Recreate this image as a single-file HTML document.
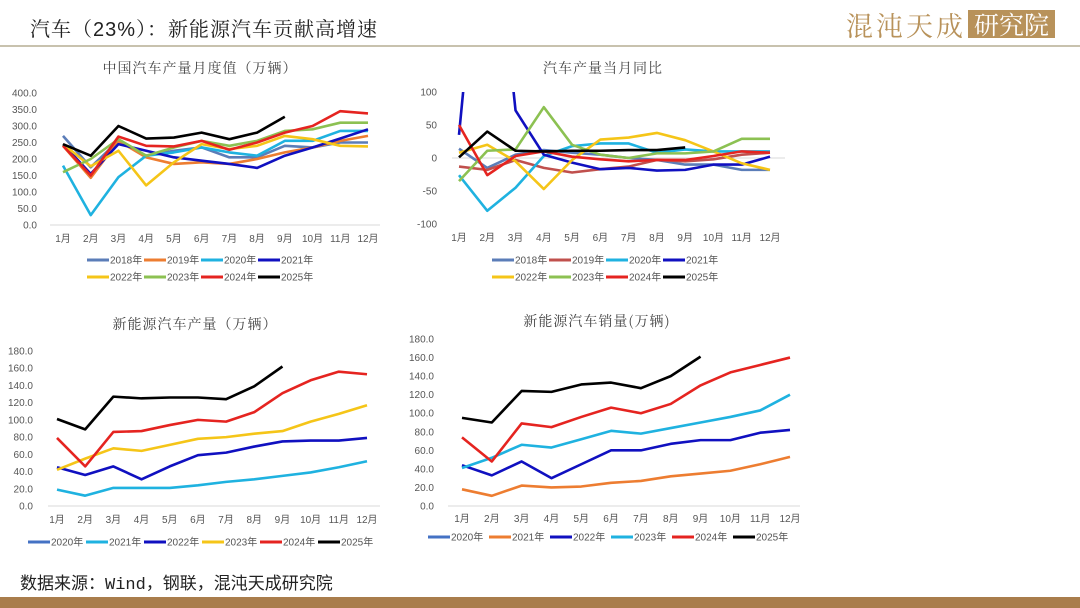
<!DOCTYPE html>
<html><head><meta charset="utf-8">
<style>
body{margin:0;width:1080px;height:608px;background:#fff;position:relative;overflow:hidden;font-family:"Liberation Sans","Noto Sans CJK SC",sans-serif;}
#title{position:absolute;left:30px;top:13px;font-size:20px;color:#222;font-family:"Liberation Sans","Noto Serif CJK SC",serif;letter-spacing:1px}
#logo{position:absolute;left:846px;top:8px;height:32px;display:flex;align-items:center}
#logo .a{color:#b8925a;font-size:27px;font-family:"Noto Serif CJK SC",serif;letter-spacing:3px}
#logo .b{background:#b8925a;color:#fff;font-size:25px;padding:0 6px;margin-left:2px;font-family:"Noto Serif CJK SC",serif;height:28px;line-height:28px}
#hline{position:absolute;left:0;top:45px;width:1080px;height:2px;background:#c8c2ae}
#src{position:absolute;left:20px;top:569px;font-size:17px;color:#222;font-family:"Liberation Mono","Noto Sans CJK SC",monospace}
#foot{position:absolute;left:0;top:597px;width:1080px;height:11px;background:#a97d4c}
svg{position:absolute;left:0;top:0}
</style></head><body>
<div id="title">汽车（23%）：新能源汽车贡献高增速</div>
<div id="logo"><span class="a">混沌天成</span><span class="b">研究院</span></div>
<div id="hline"></div>
<svg id="svg" width="1080" height="608"></svg>
<div id="src">数据来源：Wind，钢联，混沌天成研究院</div>
<div id="foot"></div>
<script>
const months=["1月","2月","3月","4月","5月","6月","7月","8月","9月","10月","11月","12月"];
// chart 1
const c1Years=["2018年","2019年","2020年","2021年","2022年","2023年","2024年","2025年"];
const c1Ticks=["0.0","50.0","100.0","150.0","200.0","250.0","300.0","350.0","400.0"];
const c1_2018=[270,175,255,210,225,235,205,205,240,235,250,250];
const c1_2019=[240,143,255,205,185,190,185,200,220,235,255,270];
const c1_2020=[180,30,145,210,220,235,220,210,255,255,285,285];
const c1_2021=[245,155,245,225,205,195,185,173,210,235,262,290];
const c1_2022=[245,178,225,120,190,245,230,240,270,260,240,238];
const c1_2023=[160,200,260,210,235,255,240,255,285,290,310,310];
const c1_2024=[240,150,268,240,238,255,228,250,280,300,345,338];
const c1_2025=[245,210,300,262,265,280,260,280,328];
// chart 2
const c2Ticks=["-100","-50","0","50","100"];
const c2_2018=[14,-15,5,12,8,5,0,-3,-10,-10,-18,-18];
const c2_2019=[-13,-18,-3,-15,-22,-17,-13,-3,-5,-2,5,8];
const c2_2020=[-26,-80,-45,3,18,22,22,8,13,10,10,10];
const c2_2021=[35,480,72,5,-7,-17,-15,-19,-18,-10,-10,2];
const c2_2022=[8,20,-5,-47,-3,28,31,38,27,10,-8,-18];
const c2_2023=[-35,11,13,77,20,5,0,7,7,10,29,29];
const c2_2024=[50,-26,3,10,2,-2,-5,-3,-3,3,10,8];
const c2_2025=[1,40,11,10,11,11,12,12,16];
// chart 3
const c3Years=["2020年","2021年","2022年","2023年","2024年","2025年"];
const c3Ticks=["0.0","20.0","40.0","60.0","80.0","100.0","120.0","140.0","160.0","180.0"];
const c3_2021=[19,12,21,21,21,24,28,31,35,39,45,52];
const c3_2022=[45,36,46,31,46,59,62,69,75,76,76,79];
const c3_2023=[42,55,67,64,71,78,80,84,87,98,107,117];
const c3_2024=[79,46,86,87,94,100,98,109,131,146,156,153];
const c3_2025=[101,89,127,125,126,126,124,139,162];
// chart 4
const c4_2021=[18,11,22,20,21,25,27,32,35,38,45,53];
const c4_2022=[44,33,48,30,45,60,60,67,71,71,79,82];
const c4_2023=[41,52,66,63,72,81,78,84,90,96,103,120];
const c4_2024=[74,48,89,85,96,106,100,110,130,144,152,160];
const c4_2025=[95,90,124,123,131,133,127,140,161];

const NS="http://www.w3.org/2000/svg";
const svg=document.getElementById('svg');
function mk(tag,attrs,parent){const e=document.createElementNS(NS,tag);for(const k in attrs)e.setAttribute(k,attrs[k]);(parent||svg).appendChild(e);return e;}

function chart(o){
  const g=mk('g',{});
  
  
  const x=i=>o.x0+(o.x1-o.x0)*i/11;
  const y=v=>o.yb-(o.yb-o.yt)*(v-o.min)/(o.max-o.min);
  const t=mk('text',{x:o.tx,y:o.ty,'text-anchor':'middle','font-size':14,fill:'#444','font-family':'"Noto Serif CJK SC",serif','letter-spacing':'1'},g);
  t.textContent=o.title;
  
  
  const n=o.ticks.length;
  o.ticks.forEach((s,i)=>{const v=o.min+(o.max-o.min)*i/(n-1);
    const tl=mk('text',{x:o.lx,y:y(v)+3.5,'text-anchor':'end','font-size':10,fill:'#555'},g);tl.textContent=s;
    
    });
  mk('line',{x1:o.ax0,x2:o.ax1,y1:y(o.axisV),y2:y(o.axisV),stroke:'#d9d9d9','stroke-width':1},g);
  months.forEach((m,i)=>{const ml=mk('text',{x:x(i),y:o.mly,'text-anchor':'middle','font-size':10,fill:'#555'},g);ml.textContent=m;
    
    });
  const cid='clip'+o.name;
  const cp=mk('clipPath',{id:cid},g);mk('rect',{x:o.ax0,y:o.yt,width:o.ax1-o.ax0,height:o.yb-o.yt},cp);
  const lg=mk('g',{'clip-path':'url(#'+cid+')'},g);
  o.series.forEach(s=>{if(!s.data)return;
    const p=mk('polyline',{points:s.data.map((v,i)=>x(i)+','+y(v)).join(' '),fill:'none',stroke:s.c,'stroke-width':2.6,'stroke-linejoin':'round'},lg);
    
    });
  o.series.forEach((s,i)=>{const r=Math.floor(i/o.perRow),c=i%o.perRow;
    const lx=o.lgx+c*o.lgdx, ly=o.lgy+r*17;
    const e=mk('g',{},g);
    
    
    mk('line',{x1:lx,x2:lx+22,y1:ly,y2:ly,stroke:s.c,'stroke-width':3},e);
    const lt=mk('text',{x:lx+23,y:ly+3.5,'font-size':10,fill:'#555'},e);lt.textContent=s.n;});
}
const Y8=c1Years;
chart({name:'china-auto-output-chart',title:'中国汽车产量月度值（万辆）',tx:200,ty:73,x0:63,x1:368,yt:93,yb:225,min:0,max:400,ticks:c1Ticks,lx:37,ax0:50,ax1:380,axisV:0,mly:242,lgx:87,lgy:260,lgdx:57,perRow:4,
 series:[{n:Y8[0],c:'#5b7db8',data:c1_2018},{n:Y8[1],c:'#ed7d31',data:c1_2019},{n:Y8[2],c:'#1fb2e0',data:c1_2020},{n:Y8[3],c:'#1010c0',data:c1_2021},{n:Y8[4],c:'#f5c518',data:c1_2022},{n:Y8[5],c:'#8cc152',data:c1_2023},{n:Y8[6],c:'#e52420',data:c1_2024},{n:Y8[7],c:'#000',data:c1_2025}]});
chart({name:'auto-output-yoy-chart',title:'汽车产量当月同比',tx:603,ty:73,x0:459,x1:770,yt:92,yb:224,min:-100,max:100,ticks:c2Ticks,lx:437,ax0:452,ax1:785,axisV:0,mly:241,lgx:492,lgy:260,lgdx:57,perRow:4,
 series:[{n:Y8[0],c:'#5b7db8',data:c2_2018},{n:Y8[1],c:'#c0504d',data:c2_2019},{n:Y8[2],c:'#1fb2e0',data:c2_2020},{n:Y8[3],c:'#1010c0',data:c2_2021},{n:Y8[4],c:'#f5c518',data:c2_2022},{n:Y8[5],c:'#8cc152',data:c2_2023},{n:Y8[6],c:'#e52420',data:c2_2024},{n:Y8[7],c:'#000',data:c2_2025}]});
const Y6=c3Years;
chart({name:'nev-output-chart',title:'新能源汽车产量（万辆）',tx:195,ty:329,x0:57,x1:367,yt:351,yb:506,min:0,max:180,ticks:c3Ticks,lx:33,ax0:48,ax1:380,axisV:0,mly:523,lgx:28,lgy:542,lgdx:58,perRow:6,
 series:[{n:Y6[0],c:'#4472c4',data:null},{n:Y6[1],c:'#1fb2e0',data:c3_2021},{n:Y6[2],c:'#1010c0',data:c3_2022},{n:Y6[3],c:'#f5c518',data:c3_2023},{n:Y6[4],c:'#e52420',data:c3_2024},{n:Y6[5],c:'#000',data:c3_2025}]});
chart({name:'nev-sales-chart',title:'新能源汽车销量(万辆)',tx:597,ty:326,x0:462,x1:790,yt:339,yb:506,min:0,max:180,ticks:c3Ticks,lx:434,ax0:448,ax1:800,axisV:0,mly:522,lgx:428,lgy:537,lgdx:61,perRow:6,
 series:[{n:Y6[0],c:'#4472c4',data:null},{n:Y6[1],c:'#ed7d31',data:c4_2021},{n:Y6[2],c:'#1010c0',data:c4_2022},{n:Y6[3],c:'#1fb2e0',data:c4_2023},{n:Y6[4],c:'#e52420',data:c4_2024},{n:Y6[5],c:'#000',data:c4_2025}]});
</script>
</body></html>
